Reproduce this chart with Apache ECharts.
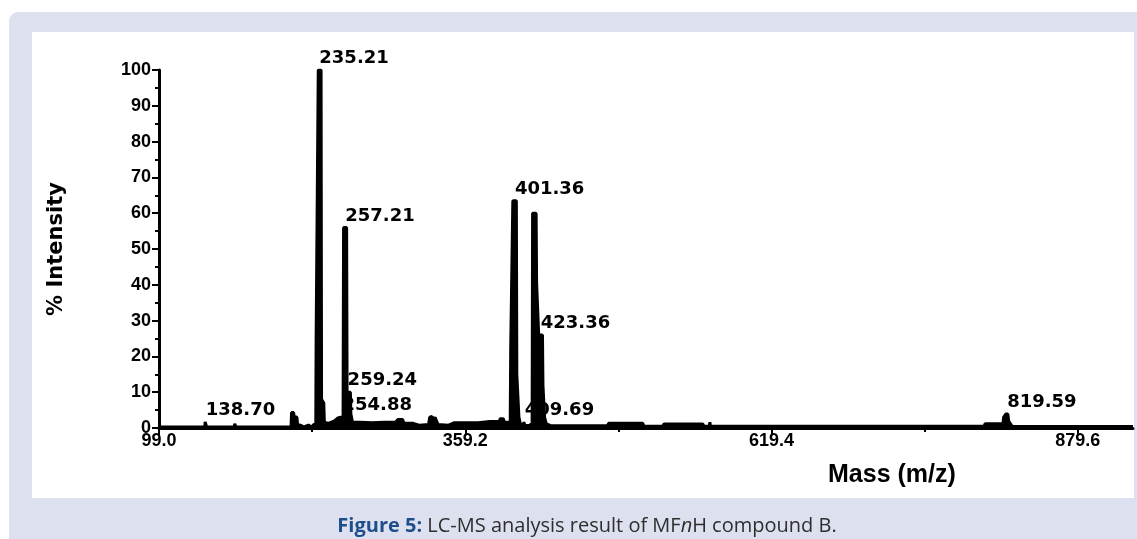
<!DOCTYPE html>
<html>
<head>
<meta charset="utf-8">
<script src="https://cdn.jsdelivr.net/npm/echarts@6/dist/echarts.min.js"></script>
<style>
html,body{margin:0;padding:0;background:#fff;}
#chart{width:1137px;height:539px;}
</style>
</head>
<body>
<div id="chart"></div>
<script>
// ---- data ----
const xTickValues = [99.0, 359.2, 619.4, 879.6];
const xMinorTickValues = [229.1, 489.3, 749.5];
const xMin = 99.0;
const xMax = 926.5;

// spectrum profile (m/z, % intensity)
const profileMz = [
  99.0, 137.9, 138.2, 139.2, 139.5, 163.0, 163.3, 164.1, 164.4,
  211.2, 211.6, 213.4, 213.8, 216.2, 216.7, 219.0, 222.0, 226.0, 228.5, 230.5, 232.2,
  232.5, 233.8, 234.3, 236.7, 237.1, 239.0, 239.5,
  243.0, 248.0, 251.0, 253.5, 255.4, 255.8, 258.4, 258.8, 261.6, 262.0, 263.0, 263.4,
  270.0, 280.0, 290.0, 300.0, 302.0, 306.0, 307.0, 315.0, 320.0,
  328.0, 329.0, 331.0, 332.0, 333.5, 335.0, 336.0, 345.0, 350.0, 370.0, 380.0, 388.0,
  389.0, 391.5, 392.5, 397.4, 397.8, 399.2, 399.6, 402.6, 403.0, 404.4, 404.8, 406.0,
  408.3, 409.0, 410.0, 414.0, 416.0, 416.4, 419.4, 419.8, 421.2, 421.6, 424.8, 425.2,
  426.2, 426.6, 428.0, 432.0, 480.0, 481.0, 510.0, 511.0, 527.0, 528.0, 561.0, 562.0,
  566.6, 567.0, 567.6, 800.0, 800.8, 816.0, 816.6, 818.4, 820.2, 820.8, 822.4, 824.0, 926.5
];
const profileIntensity = [
  0.3, 0.3, 1.7, 1.7, 0.3, 0.3, 1.2, 1.2, 0.3,
  0.3, 4.3, 4.3, 3.2, 3.0, 1.0, 0.8, 0.3, 0.8, 0.3, 1.0, 1.0,
  25, 25, 100, 100, 8, 7, 1.6,
  1.3, 2.0, 2.8, 3.0, 3.0, 56, 56, 10, 10, 4, 4, 1.6,
  1.6, 1.5, 1.6, 1.6, 2.4, 2.4, 1.4, 1.3, 0.8,
  1.0, 3.0, 3.2, 2.0, 3.0, 2.8, 1.0, 0.8, 1.5, 1.5, 1.8, 1.8,
  2.6, 2.6, 1.6, 1.6, 22, 22, 63.5, 63.5, 15, 15, 3, 1.2,
  0.8, 1.6, 0.6, 0.8, 1.2, 60, 60, 40.6, 40.6, 26, 26, 12,
  12, 3, 1.2, 0.6, 0.6, 1.3, 1.3, 0.5, 0.5, 1.1, 1.1, 0.5,
  0.5, 1.6, 0.5, 0.5, 1.2, 1.2, 3.0, 3.9, 3.9, 2.0, 1.2, 0.4, 0.4
];

// labelled peaks
const peakLabelMz = [138.70, 235.21, 254.88, 257.21, 259.24, 401.36, 409.69, 423.36, 819.59];
const peakLabelIntensity = [1.7, 100, 3.0, 56, 10, 63.5, 1.6, 26, 3.9];

const chart = echarts.init(document.getElementById('chart'), null, {renderer: 'canvas'});

const tickFont = {fontFamily: 'Liberation Sans, Arial, sans-serif', fontWeight: 'bold', fontSize: 18, color: '#000'};

chart.setOption({
  animation: false,
  backgroundColor: '#ffffff',
  graphic: [
    {type: 'rect', z: -20, silent: true, shape: {x: 9, y: 12, width: 1200, height: 600, r: [9, 0, 0, 0]}, style: {fill: '#dde1ef'}},
    {type: 'rect', z: -19, silent: true, shape: {x: 32, y: 32, width: 1102, height: 466}, style: {fill: '#ffffff'}},
    {type: 'text', z: 10, silent: true, x: 828, y: 463,
      style: {text: 'Mass (m/z)', fontFamily: 'Liberation Sans, Arial, sans-serif', fontWeight: 'bold', fontSize: 25, fill: '#000', textAlign: 'left', textVerticalAlign: 'top'}},
    {type: 'text', z: 10, silent: true, x: 587, y: 526,
      style: {
        text: '{b|Figure 5:} LC-MS analysis result of MF{i|n}H compound B.',
        fontFamily: 'Open Sans, sans-serif', fontSize: 20, fill: '#2e2e2e',
        textAlign: 'center', textVerticalAlign: 'middle',
        rich: {
          b: {fontFamily: 'Open Sans, sans-serif', fontWeight: 'bold', fontSize: 20, fill: '#1f4e8c', color: '#1f4e8c'},
          i: {fontFamily: 'Open Sans, sans-serif', fontStyle: 'italic', fontSize: 20, fill: '#2e2e2e', color: '#2e2e2e'}
        }
      }}
  ],
  grid: {left: 159, right: 4, top: 70, bottom: 111, containLabel: false},
  xAxis: [
    {
      type: 'value', min: xMin, max: xMax, position: 'bottom',
      axisLine: {show: true, onZero: false, lineStyle: {color: '#000', width: 3}},
      axisTick: {show: true, customValues: xTickValues, length: 7, lineStyle: {color: '#000', width: 2}},
      axisLabel: Object.assign({show: true, customValues: xTickValues, margin: 4, formatter: v => v.toFixed(1)}, tickFont),
      splitLine: {show: false}
    },
    {
      type: 'value', min: xMin, max: xMax, position: 'bottom',
      axisLine: {show: false},
      axisTick: {show: true, customValues: xMinorTickValues, length: 4, lineStyle: {color: '#000', width: 2}},
      axisLabel: {show: false},
      splitLine: {show: false}
    }
  ],
  yAxis: {
    type: 'value', min: 0, max: 100, interval: 10,
    name: '% Intensity', nameLocation: 'middle', nameRotate: 90, nameGap: 92,
    nameTextStyle: {fontFamily: 'DejaVu Sans, sans-serif', fontWeight: 'bold', fontSize: 21, color: '#000'},
    axisLine: {show: true, lineStyle: {color: '#000', width: 3}},
    axisTick: {show: true, length: 7, lineStyle: {color: '#000', width: 2}},
    minorTick: {show: true, splitNumber: 2, length: 4, lineStyle: {color: '#000', width: 2}},
    axisLabel: Object.assign({margin: 8}, tickFont),
    splitLine: {show: false},
    minorSplitLine: {show: false}
  },
  series: [
    {
      type: 'scatter', z: 1, silent: true,
      symbolSize: 1, itemStyle: {color: 'rgba(0,0,0,0)', opacity: 1},
      data: peakLabelMz.map((m, i) => [m, peakLabelIntensity[i]]),
      label: {
        show: true, position: 'top', distance: 2, align: 'left', verticalAlign: 'bottom',
        formatter: p => p.value[0].toFixed(2),
        fontFamily: 'DejaVu Sans, sans-serif', fontWeight: 'bold', fontSize: 18, color: '#000', opacity: 1
      }
    },
    {
      type: 'line', z: 3, silent: true, showSymbol: false, symbol: 'none', smooth: false,
      data: profileMz.map((m, i) => [m, profileIntensity[i]]),
      lineStyle: {color: '#000', width: 3},
      areaStyle: {color: '#000', opacity: 1}
    }
  ]
});
</script>
</body>
</html>
